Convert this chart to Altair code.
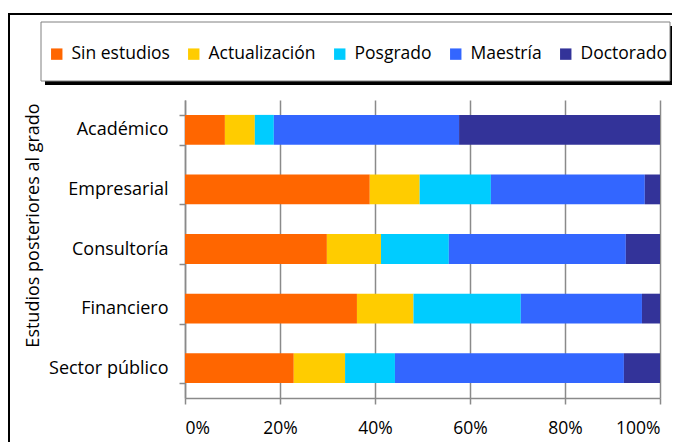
import altair as alt
import pandas as pd

categories = ["Académico", "Empresarial", "Consultoría", "Financiero", "Sector público"]
levels = ["Sin estudios", "Actualización", "Posgrado", "Maestría", "Doctorado"]
colors = ["#FF6600", "#FFCC00", "#00CCFF", "#3366FF", "#333399"]
sin_estudios = [8.4, 38.9, 29.9, 36.2, 22.9]
actualizacion = [6.3, 10.5, 11.4, 11.9, 10.8]
posgrado = [4.0, 15.0, 14.3, 22.6, 10.5]
maestria = [39.0, 32.4, 37.3, 25.5, 48.2]
doctorado = [42.3, 3.2, 7.2, 3.8, 7.6]
x_ticks = [0, 0.2, 0.4, 0.6, 0.8, 1.0]

series = [sin_estudios, actualizacion, posgrado, maestria, doctorado]
rows = []
for li, (lev, vals) in enumerate(zip(levels, series)):
    for cat, v in zip(categories, vals):
        rows.append({"cat": cat, "level": lev, "idx": li, "value": v})
df = pd.DataFrame(rows)
one = pd.DataFrame({"a": [0]})

FONT = "Open Sans"
GRID = "#8a8a8a"

bars = alt.Chart(df).mark_bar().encode(
    x=alt.X("value:Q", stack="normalize",
            scale=alt.Scale(domain=[0, 1], nice=False),
            axis=alt.Axis(values=x_ticks, format=".0%", title=None,
                          grid=True, gridColor=GRID, gridWidth=1.5,
                          domainColor=GRID, domainWidth=1.5,
                          tickColor=GRID, tickWidth=1.5, tickSize=6,
                          labelFontSize=17.5, labelColor="#000", labelPadding=15,
                          labelFont=FONT)),
    y=alt.Y("cat:N", sort=categories,
            scale=alt.Scale(paddingInner=0.5, paddingOuter=0.25),
            axis=alt.Axis(title="Estudios posteriores al grado", tickBand="extent",
                          grid=False, domainColor=GRID, domainWidth=1.5,
                          tickColor=GRID, tickWidth=1.5, tickSize=6,
                          labelFontSize=18, labelColor="#000", labelPadding=11,
                          labelFont=FONT, labelFontWeight="normal",
                          titleFont=FONT, titleFontSize=18, titleFontWeight="normal",
                          titleColor="#000", titleAngle=270, titleX=-152, titleY=125,
                          titleAlign="center", titleBaseline="middle")),
    color=alt.Color("level:N", sort=levels,
                    scale=alt.Scale(domain=levels, range=colors),
                    legend=alt.Legend(title=None, orient="none", legendX=-137, legendY=-55,
                                      direction="horizontal", columns=5,
                                      symbolType="square", symbolSize=130,
                                      symbolStrokeWidth=0, labelFont=FONT,
                                      labelFontSize=17.5, labelColor="#000",
                                      labelOffset=6, columnPadding=15, padding=0)),
    order=alt.Order("idx:Q"),
)

frame = alt.Chart(one).mark_rect(fillOpacity=0, stroke="black", strokeWidth=2).encode(
    x=alt.value(-176), x2=alt.value(520), y=alt.value(-86), y2=alt.value(360))
shadow = alt.Chart(one).mark_rect(fill="black").encode(
    x=alt.value(-140), x2=alt.value(489), y=alt.value(-74), y2=alt.value(-15))
box = alt.Chart(one).mark_rect(fill="white", stroke="#808080", strokeWidth=1).encode(
    x=alt.value(-144), x2=alt.value(485), y=alt.value(-78), y2=alt.value(-19))

chart = alt.layer(frame, shadow, box, bars).properties(
    width=475, height=298, autosize="none",
    padding={"left": 177, "top": 92, "right": 12, "bottom": 44},
).configure_view(stroke=None)

chart.save("out.html", embed_options={"renderer": "svg", "actions": False})
